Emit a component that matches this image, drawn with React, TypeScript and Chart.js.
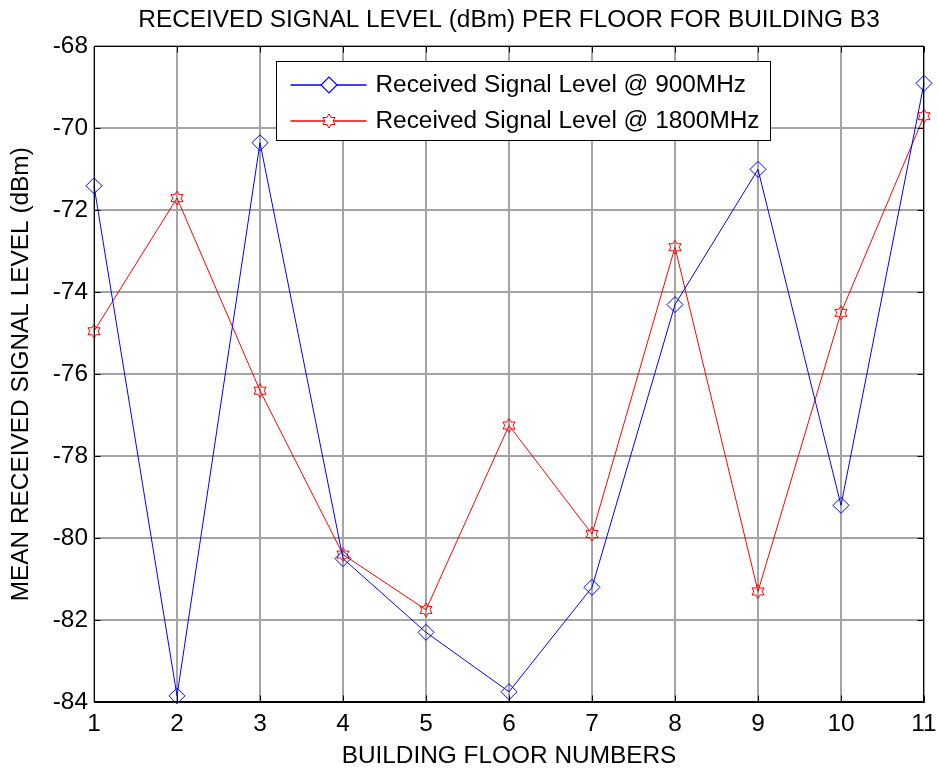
import React, { useEffect, useRef } from 'react';
import { Chart, registerables } from 'chart.js';

Chart.register(...registerables);

// ---- data ----
const floors = [1, 2, 3, 4, 5, 6, 7, 8, 9, 10, 11];
const rsl900 = [-71.4, -83.85, -70.35, -80.5, -82.3, -83.75, -81.2, -74.3, -71.0, -79.2, -68.9];
const rsl1800 = [-74.95, -71.7, -76.4, -80.4, -81.75, -77.25, -79.9, -72.9, -81.3, -74.5, -69.7];
const seriesLabels = ['Received Signal Level @ 900MHz', 'Received Signal Level @ 1800MHz'];
const seriesColors = ['rgb(0,0,255)', 'rgb(255,0,0)'];
const titleText = 'RECEIVED SIGNAL LEVEL (dBm) PER FLOOR FOR BUILDING B3';
const xLabel = 'BUILDING FLOOR NUMBERS';
const yLabel = 'MEAN RECEIVED SIGNAL LEVEL (dBm)';
const yMin = -84;
const yMax = -68;
const yStep = 2;
const xMin = 1;
const xMax = 11;

const FONT = "'Liberation Sans', Arial, Helvetica, sans-serif";
const FONT_SIZE = 24.4;

function makeHexagram(color: string, R: number): HTMLCanvasElement {
  const size = Math.ceil(2 * R + 4);
  const c = document.createElement('canvas');
  c.width = size;
  c.height = size;
  const ctx = c.getContext('2d')!;
  const cx = size / 2;
  const cy = size / 2;
  const r = R / Math.sqrt(3);
  ctx.beginPath();
  for (let i = 0; i < 12; i++) {
    const ang = -Math.PI / 2 + (i * Math.PI) / 6;
    const rad = i % 2 === 0 ? R : r;
    const x = cx + rad * Math.cos(ang);
    const y = cy + rad * Math.sin(ang);
    if (i === 0) ctx.moveTo(x, y);
    else ctx.lineTo(x, y);
  }
  ctx.closePath();
  ctx.strokeStyle = color;
  ctx.lineWidth = 1;
  ctx.stroke();
  return c;
}

const framePlugin = {
  id: 'matlabFrame',
  afterDraw(chart: any) {
    const { ctx, chartArea: a, scales } = chart;
    ctx.save();
    ctx.strokeStyle = '#000';
    ctx.lineWidth = 1;
    const L = Math.round(a.left) + 0.5;
    const R = Math.round(a.right) - 0.5;
    const T = Math.round(a.top) + 0.5;
    const B = Math.round(a.bottom) - 0.5;
    ctx.strokeRect(L, T, R - L, B - T);
    const tl = 6;
    ctx.beginPath();
    scales.x.ticks.forEach((t: any) => {
      const px = Math.round(scales.x.getPixelForValue(t.value)) + 0.5;
      ctx.moveTo(px, B);
      ctx.lineTo(px, B - tl);
      ctx.moveTo(px, T);
      ctx.lineTo(px, T + tl);
    });
    scales.y.ticks.forEach((t: any) => {
      const py = Math.round(scales.y.getPixelForValue(t.value)) + 0.5;
      ctx.moveTo(L, py);
      ctx.lineTo(L + tl, py);
      ctx.moveTo(R, py);
      ctx.lineTo(R - tl, py);
    });
    ctx.stroke();

    // legend box
    const bx = 276.5;
    const by = 61.5;
    const bw = 494;
    const bh = 79;
    ctx.fillStyle = '#fff';
    ctx.fillRect(bx, by, bw, bh);
    ctx.strokeStyle = '#000';
    ctx.lineWidth = 1;
    ctx.strokeRect(bx, by, bw, bh);
    ctx.restore();

    const rows = [by + 23, by + 59];
    for (let i = 0; i < seriesLabels.length; i++) {
      const color = seriesColors[i];
      const y = Math.round(rows[i]);
      ctx.save();
      ctx.strokeStyle = color;
      ctx.lineWidth = 1.4;
      ctx.beginPath();
      ctx.moveTo(bx + 14, y);
      ctx.lineTo(bx + 90, y);
      ctx.stroke();
      const mx = Math.round(bx + 52);
      if (i === 0) {
        const r = 8;
        ctx.beginPath();
        ctx.moveTo(mx - r, y);
        ctx.lineTo(mx, y - r);
        ctx.lineTo(mx + r, y);
        ctx.lineTo(mx, y + r);
        ctx.closePath();
        ctx.fillStyle = '#fff';
        ctx.fill();
        ctx.lineWidth = 1.2;
        ctx.strokeStyle = color;
        ctx.stroke();
      } else {
        const img = chart.data.datasets[1].pointStyle as HTMLCanvasElement;
        ctx.fillStyle = '#fff';
        ctx.fillRect(mx - 4, y - 4, 8, 8);
        ctx.drawImage(img, mx - img.width / 2, y - img.height / 2);
      }
      ctx.fillStyle = '#000';
      ctx.font = `${FONT_SIZE}px ${FONT}`;
      ctx.textBaseline = 'middle';
      ctx.textAlign = 'left';
      ctx.fillText(seriesLabels[i], bx + 99, y + 0.5);
      ctx.restore();
    }
  },
};

export default function App() {
  const ref = useRef<HTMLCanvasElement | null>(null);

  useEffect(() => {
    if (!ref.current) return;
    const hexagram = makeHexagram(seriesColors[1], 7);
    const chart = new Chart(ref.current, {
      type: 'line',
      data: {
        datasets: [
          {
            label: seriesLabels[0],
            data: floors.map((f, i) => ({ x: f, y: rsl900[i] })),
            borderColor: seriesColors[0],
            backgroundColor: 'rgba(0,0,0,0)',
            borderWidth: 1,
            pointStyle: 'rectRot',
            pointRadius: 8,
            pointBorderColor: seriesColors[0],
            pointBackgroundColor: 'rgba(0,0,0,0)',
            pointBorderWidth: 1,
            tension: 0,
            clip: false as any,
          },
          {
            label: seriesLabels[1],
            data: floors.map((f, i) => ({ x: f, y: rsl1800[i] })),
            borderColor: seriesColors[1],
            backgroundColor: 'rgba(0,0,0,0)',
            borderWidth: 1,
            pointStyle: hexagram as any,
            pointRadius: 7,
            pointBorderColor: seriesColors[1],
            pointBorderWidth: 1,
            tension: 0,
            clip: false as any,
          },
        ],
      },
      options: {
        responsive: false,
        animation: false,
        devicePixelRatio: 1,
        layout: { padding: { left: 0, right: 14, top: 0, bottom: 0 } },
        plugins: {
          legend: { display: false },
          tooltip: { enabled: false },
          title: {
            display: true,
            fullSize: false,
            text: titleText,
            color: '#000',
            font: { family: FONT, size: FONT_SIZE, weight: 'normal' as any, lineHeight: 1.2 },
            padding: { top: 6, bottom: 11.2 },
          },
        },
        scales: {
          x: {
            type: 'linear',
            min: xMin,
            max: xMax,
            ticks: {
              stepSize: 1,
              color: '#000',
              padding: 1,
              font: { family: FONT, size: FONT_SIZE },
              maxRotation: 0,
            },
            grid: {
              color: '#a4a4a4',
              lineWidth: 2,
              drawTicks: true,
              tickLength: 7,
              tickColor: 'rgba(0,0,0,0)',
            },
            border: { display: true, color: '#000', width: 1 },
            title: {
              display: true,
              text: xLabel,
              color: '#000',
              font: { family: FONT, size: FONT_SIZE, lineHeight: 1.2 },
              padding: { top: 0, bottom: 3 },
            },
            afterFit(scale: any) {
              scale.height = 72;
            },
          },
          y: {
            type: 'linear',
            min: yMin,
            max: yMax,
            ticks: {
              stepSize: yStep,
              color: '#000',
              padding: 6,
              font: { family: FONT, size: FONT_SIZE },
            },
            grid: { color: '#a4a4a4', lineWidth: 2, drawTicks: false },
            border: { display: true, color: '#000', width: 1 },
            title: {
              display: true,
              text: yLabel,
              color: '#000',
              font: { family: FONT, size: FONT_SIZE, lineHeight: 1.2 },
              padding: { top: 7, bottom: 0 },
            },
            afterFit(scale: any) {
              scale.width = 94;
            },
          },
        },
      },
      plugins: [framePlugin],
    });
    return () => chart.destroy();
  }, []);

  return (
    <div style={{ position: 'fixed', left: 0, top: 0, width: 938, height: 774, background: '#fff' }}>
      <canvas ref={ref} width={938} height={774} style={{ display: 'block', width: 938, height: 774 }} />
    </div>
  );
}
